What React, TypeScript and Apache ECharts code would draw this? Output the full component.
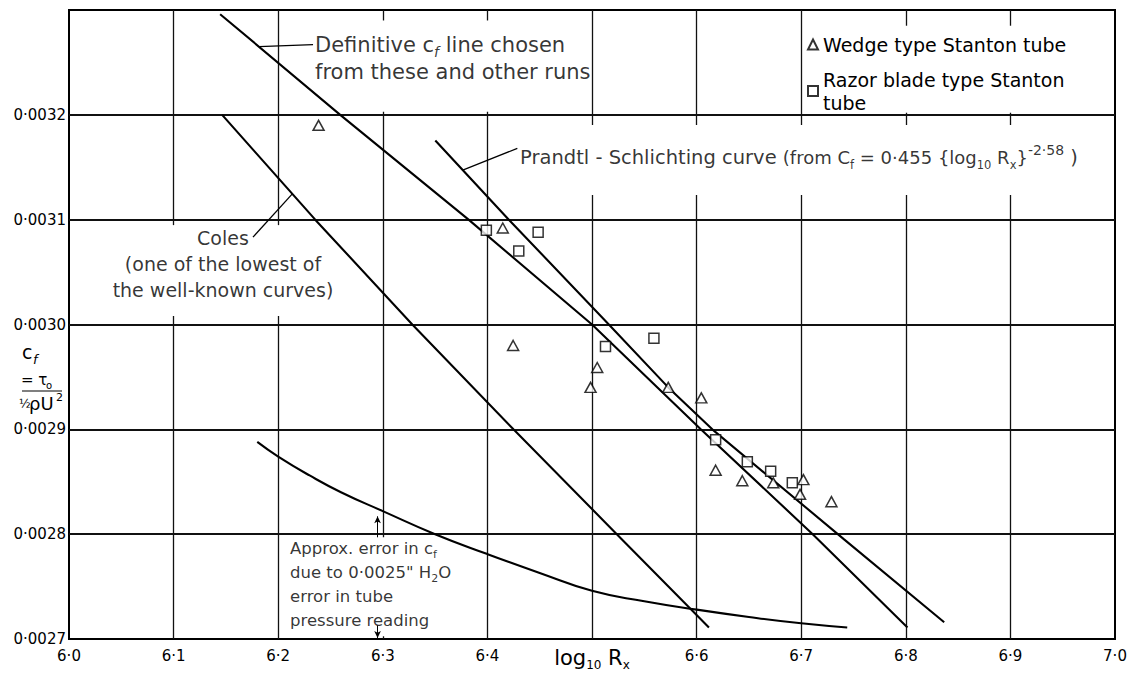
import React, { useEffect, useRef } from 'react';
import * as echarts from 'echarts';

const FONT = 'DejaVu Sans';

// Wedge type Stanton tube (triangles)
const wedgeX = [6.2386, 6.4147, 6.4246, 6.505, 6.4986, 6.5729, 6.6045, 6.6182, 6.6437, 6.6733, 6.7021, 6.6989, 6.7289];
const wedgeY = [0.00319, 0.003092, 0.00298, 0.002959, 0.00294, 0.00294, 0.00293, 0.002861, 0.002851, 0.002849, 0.002852, 0.002838, 0.002831];

// Razor blade type Stanton tube (squares)
const razorX = [6.399, 6.43, 6.4485, 6.5129, 6.5592, 6.6182, 6.6485, 6.6708, 6.6915];
const razorY = [0.00309, 0.00307, 0.003088, 0.002979, 0.002987, 0.00289, 0.002869, 0.00286, 0.002849];

// Definitive cf line
const defX = [6.1445, 6.2593, 6.382, 6.5, 6.604, 6.711, 6.8016];
const defY = [0.003296, 0.0032, 0.0031, 0.003, 0.0029, 0.0028, 0.002711];

// Prandtl-Schlichting curve
const prX = [6.3502, 6.4205, 6.5161, 6.5729, 6.615, 6.741, 6.8367];
const prY = [0.0031755, 0.0031, 0.003, 0.00294, 0.0029, 0.002795, 0.002716];

// Coles
const colesX = [6.1464, 6.2354, 6.3282, 6.4249, 6.5237, 6.6118];
const colesY = [0.0032, 0.0031, 0.003, 0.0029, 0.0028, 0.002711];

// Approx. error curve
const errX = [6.18, 6.2, 6.23, 6.26, 6.3, 6.35, 6.4, 6.45, 6.5, 6.55, 6.6, 6.65, 6.7, 6.744];
const errY = [0.002888, 0.002874, 0.002856, 0.00284, 0.002822, 0.0028, 0.002781, 0.002763, 0.002746, 0.002736, 0.002728, 0.002721, 0.002715, 0.002711];

// Axis ticks
const xMin = 6.0, xMax = 7.0, xStep = 0.1;
const yMin = 0.0027, yMax = 0.0033, yStep = 0.0001;

const WEDGE = 'Wedge type Stanton tube';
const RAZOR = 'Razor blade type Stanton tube';

// Areas (data coordinates) behind the annotations, where the grid lines are left out
const masks = [
  [6.27, 0.003203, 6.496, 0.00329],
  [6.7065, 0.003202, 6.9952, 0.003285],
  [6.431, 0.0031235, 6.9857, 0.0031903],
  [6.02, 0.003008, 6.255, 0.0030948],
  [6.2065, 0.0027026, 6.3834, 0.0027971],
];

const pairs = (xs: number[], ys: number[]) => xs.map((x, i) => [x, ys[i]]);

// grid-line tick positions
const vTicks: number[] = [];
for (let i = 1; i * xStep < xMax - xMin - 1e-9; i++) vTicks.push(+(xMin + i * xStep).toFixed(4));
const hTicks: number[] = [];
for (let i = 1; i * yStep < yMax - yMin - 1e-12; i++) hTicks.push(+(yMin + i * yStep).toFixed(6));

// subtract cut intervals from [lo, hi]
const segments = (lo: number, hi: number, cuts: number[][]) => {
  const sorted = cuts.slice().sort((a, b) => a[0] - b[0]);
  const out: number[][] = [];
  let cur = lo;
  sorted.forEach(([a, b]) => {
    if (a > cur) out.push([cur, Math.min(a, hi)]);
    cur = Math.max(cur, b);
  });
  if (cur < hi) out.push([cur, hi]);
  return out;
};

const gridLineData: any[] = [];
vTicks.forEach((x) => {
  const cuts = masks.filter((m) => m[0] < x && x < m[2]).map((m) => [m[1], m[3]]);
  segments(yMin, yMax, cuts).forEach(([a, b]) => {
    gridLineData.push([{ coord: [x, a], lineStyle: { width: 1.3 } }, { coord: [x, b] }]);
  });
});
hTicks.forEach((y) => {
  const cuts = masks.filter((m) => m[1] < y && y < m[3]).map((m) => [m[0], m[2]]);
  segments(xMin, xMax, cuts).forEach(([a, b]) => {
    gridLineData.push([{ coord: [a, y], lineStyle: { width: 1.8 } }, { coord: [b, y] }]);
  });
});

const lineSeries = (name: string, xs: number[], ys: number[], smooth = false) => ({
  type: 'line',
  name,
  data: pairs(xs, ys),
  symbol: 'none',
  smooth,
  silent: true,
  z: 10,
  lineStyle: { color: '#000', width: 2.1 },
});

const leader = (a: number[], b: number[]) => ({
  type: 'line',
  data: [a, b],
  symbol: 'none',
  silent: true,
  z: 10,
  lineStyle: { color: '#000', width: 1.3 },
});

const txt = (size: number, lh: number, extra: any = {}) => ({
  fontSize: size, lineHeight: lh, fontFamily: FONT, color: '#000', ...extra,
});

const titleGraphics: any[] = [
  { type: 'text', x: 22, y: 352, z: 6, style: { text: 'c', fontSize: 19, fontFamily: FONT, fill: '#000', verticalAlign: 'middle', textVerticalAlign: 'middle' } },
  { type: 'text', x: 33, y: 359, z: 6, style: { text: 'f', fontSize: 13, fontStyle: 'italic', fontFamily: FONT, fill: '#000', verticalAlign: 'middle', textVerticalAlign: 'middle' } },
  { type: 'text', x: 21, y: 380, z: 6, style: { text: '= τ', fontSize: 15, fontFamily: FONT, fill: '#000', verticalAlign: 'middle', textVerticalAlign: 'middle' } },
  { type: 'text', x: 46, y: 385, z: 6, style: { text: 'o', fontSize: 10, fontFamily: FONT, fill: '#000', verticalAlign: 'middle', textVerticalAlign: 'middle' } },
  { type: 'line', z: 6, shape: { x1: 22, y1: 391, x2: 62, y2: 391 }, style: { stroke: '#000', lineWidth: 1.2 } },
  { type: 'text', x: 19, y: 404, z: 6, style: { text: '½', fontSize: 12, fontFamily: FONT, fill: '#000', verticalAlign: 'middle', textVerticalAlign: 'middle' } },
  { type: 'text', x: 29, y: 403, z: 6, style: { text: 'ρU', fontSize: 18, fontFamily: FONT, fill: '#000', verticalAlign: 'middle', textVerticalAlign: 'middle' } },
  { type: 'text', x: 56, y: 397, z: 6, style: { text: '2', fontSize: 11, fontFamily: FONT, fill: '#000', verticalAlign: 'middle', textVerticalAlign: 'middle' } },
];

const option: any = {
  animation: false,
  backgroundColor: '#fff',
  textStyle: { fontFamily: FONT, color: '#000' },
  grid: {
    left: 69, right: 20, top: 10, bottom: 36,
    outerBoundsMode: 'none',
    containLabel: false,
    show: true, borderColor: '#000', borderWidth: 2, backgroundColor: 'rgba(0,0,0,0)',
  },
  legend: {
    orient: 'vertical',
    left: 802, top: 28,
    itemGap: 12, itemWidth: 10, itemHeight: 10,
    selectedMode: false,
    z: 8,
    textStyle: { fontSize: 19, lineHeight: 23, fontFamily: FONT, color: '#000' },
    formatter: (name: string) => (name === RAZOR ? 'Razor blade type Stanton\ntube' : name),
    data: [
      { name: WEDGE, icon: 'triangle' },
      { name: RAZOR, icon: 'rect' },
    ],
  },
  xAxis: {
    type: 'value', min: xMin, max: xMax, interval: xStep,
    axisLine: { show: true, lineStyle: { color: '#000', width: 2 } },
    axisTick: { show: false },
    splitLine: { show: false },
    axisLabel: {
      color: '#000', fontSize: 15, margin: 9, fontFamily: FONT,
      formatter: (v: number) => (Math.abs(v - 6.5) < 1e-6 ? '' : v.toFixed(1).replace('.', '·')),
    },
    name: '{a|log}{b|10}{a| R}{b|x}',
    nameLocation: 'middle',
    nameGap: 6,
    nameMoveOverlap: false,
    nameTextStyle: {
      rich: {
        a: txt(21, 26),
        b: txt(12, 12, { verticalAlign: 'bottom' }),
      },
    },
  },
  yAxis: {
    type: 'value', min: yMin, max: yMax, interval: yStep,
    axisLine: { show: true, lineStyle: { color: '#000', width: 2 } },
    axisTick: { show: false },
    splitLine: { show: false },
    axisLabel: {
      color: '#000', fontSize: 15, margin: 3, fontFamily: FONT,
      formatter: (v: number) => (v > 0.00325 ? '' : v.toFixed(4).replace('.', '·')),
    },
  },
  graphic: { elements: titleGraphics },
  series: [
    // annotation texts; the grid lines are drawn as segments that skip the text areas
    {
      type: 'scatter',
      name: 'notes',
      silent: true,
      z: 8,
      symbolSize: 0,
      itemStyle: { color: 'rgba(0,0,0,0)' },
      markLine: {
        silent: true,
        z: 1,
        symbol: ['none', 'none'],
        label: { show: false },
        emphasis: { disabled: true },
        lineStyle: { color: '#111', type: 'solid', width: 1.5 },
        data: gridLineData,
      },
      data: [
        {
          value: [6.2352, 0.0032537],
          label: {
            show: true, position: [0, 0], align: 'left', verticalAlign: 'middle',
            formatter: '{t|Definitive c}{s|f}{t| line chosen}\n{t|from these and other runs}',
            rich: { t: txt(21, 27), s: txt(14, 14, { fontStyle: 'italic', verticalAlign: 'bottom' }) },
          },
        },
        {
          value: [6.4312, 0.0031597],
          label: {
            show: true, position: [0, 0], align: 'left', verticalAlign: 'middle',
            fontSize: 18, fontFamily: FONT, color: '#000',
            formatter: '{t|Prandtl - Schlichting curve }{m|(from C}{ms|f}{m| = 0·455 {log}{ms|10}{m| R}{ms|x}}{sup|-2·58}{t| )}',
            rich: {
              t: txt(19.5, 28),
              m: txt(18, 28),
              ms: txt(11.5, 11, { verticalAlign: 'bottom' }),
              sup: txt(14, 12, { verticalAlign: 'top' }),
            },
          },
        },
        {
          value: [6.1472, 0.0030576],
          label: {
            show: true, position: [0, 0], align: 'center', verticalAlign: 'middle',
            formatter: '{c|Coles}\n{c|(one of the lowest of}\n{c|the well-known curves)}',
            rich: { c: txt(19, 26) },
          },
        },
        {
          value: [6.2113, 0.0027522],
          label: {
            show: true, position: [0, 0], align: 'left', verticalAlign: 'middle',
            formatter: '{a|Approx. error in c}{as|f}\n{a|due to 0·0025" H}{as|2}{a|O}\n{a|error in tube}\n{a|pressure reading}',
            rich: { a: txt(16.5, 24), as: txt(11, 11, { verticalAlign: 'bottom' }) },
          },
        },
      ],
    },
    leader([6.1816, 0.003265], [6.2333, 0.003267]),
    leader([6.3764, 0.0031473], [6.4286, 0.003168]),
    leader([6.1759, 0.0030834], [6.2135, 0.0031246]),
    lineSeries('Definitive', defX, defY),
    lineSeries('Prandtl-Schlichting', prX, prY),
    lineSeries('Coles', colesX, colesY),
    {
      ...lineSeries('Approx. error', errX, errY, true),
      markLine: {
        silent: true,
        z: 10,
        symbol: ['none', 'arrow'],
        symbolSize: [5, 7],
        lineStyle: { color: '#000', width: 1, type: 'solid' },
        label: { show: false },
        data: [
          [{ coord: [6.295, 0.002797] }, { coord: [6.295, 0.002817] }],
          [{ coord: [6.295, 0.002713] }, { coord: [6.295, 0.002701] }],
        ],
      },
    },
    {
      type: 'scatter',
      name: WEDGE,
      data: pairs(wedgeX, wedgeY),
      symbol: 'triangle',
      symbolSize: [11, 10],
      z: 12,
      itemStyle: { color: '#fff', borderColor: '#000', borderWidth: 1.5 },
    },
    {
      type: 'scatter',
      name: RAZOR,
      data: pairs(razorX, razorY),
      symbol: 'rect',
      symbolSize: 10,
      z: 12,
      itemStyle: { color: '#fff', borderColor: '#000', borderWidth: 1.5 },
    },
  ],
};

export default function App() {
  const ref = useRef<HTMLDivElement>(null);
  useEffect(() => {
    if (!ref.current) return;
    const chart = echarts.init(ref.current, null, { renderer: 'svg' });
    chart.setOption(option);
    return () => chart.dispose();
  }, []);
  return (
    <div
      ref={ref}
      style={{ position: 'fixed', left: 0, top: 0, width: 1135, height: 675, background: '#fff' }}
    />
  );
}
